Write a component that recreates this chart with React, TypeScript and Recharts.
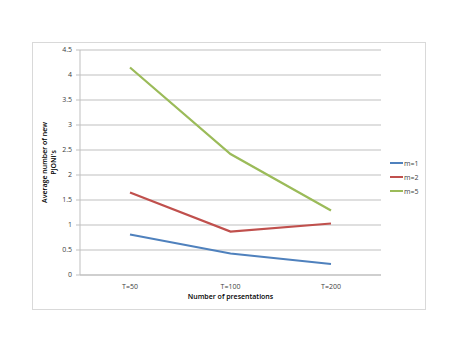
import React from 'react';
import { LineChart, Line, XAxis, YAxis, CartesianGrid } from 'recharts';

const categories = ['T=50', 'T=100', 'T=200'];
const m1 = [0.81, 0.43, 0.22];
const m2 = [1.65, 0.87, 1.03];
const m5 = [4.15, 2.42, 1.29];
const yTicks = [0, 0.5, 1, 1.5, 2, 2.5, 3, 3.5, 4, 4.5];
const boundaryTicks = [0, 1, 2, 3];

const seriesDefs = [
  { key: 'm1', name: 'm=1', color: '#4F81BD' },
  { key: 'm2', name: 'm=2', color: '#C0504D' },
  { key: 'm5', name: 'm=5', color: '#9BBB59' },
];

const data = categories.map((c, i) => ({ cat: c, m1: m1[i], m2: m2[i], m5: m5[i] }));

const FONT = 'Open Sans, Liberation Sans, sans-serif';

const LegendBox = () => (
  <div style={{ position: 'absolute', left: 390, top: 156, fontFamily: FONT, fontSize: 7, color: '#404040' }}>
    {seriesDefs.map((s) => (
      <div key={s.key} style={{ display: 'flex', alignItems: 'center', height: 14 }}>
        <div style={{ width: 13, height: 2.5, background: s.color, marginRight: 1 }} />
        <span>{s.name}</span>
      </div>
    ))}
  </div>
);

const YTitle = (props: any) => {
  const vb = props.viewBox || {};
  const cy = vb.y + vb.height / 2;
  return (
    <g>
      <text x={47} y={cy} transform={`rotate(-90, 47, ${cy})`} textAnchor="middle" fontFamily={FONT} fontSize={7} fontWeight={600} fill="#000">
        Average number of new
      </text>
      <text x={56} y={cy} transform={`rotate(-90, 56, ${cy})`} textAnchor="middle" fontFamily={FONT} fontSize={7} fontWeight={600} fill="#000">
        PJONI's
      </text>
    </g>
  );
};

export default function App() {
  return (
    <div style={{ position: 'absolute', left: 0, top: 0, width: 463, height: 358, background: '#fff' }}>
      <div style={{ position: 'absolute', left: 32, top: 42, width: 394, height: 268, border: '1px solid #D9D9D9', boxSizing: 'border-box' }} />
      <LineChart
        width={463}
        height={358}
        data={data}
        margin={{ top: 50, right: 82, left: 50, bottom: 0 }}
        style={{ position: 'absolute', left: 0, top: 0 }}
      >
        <CartesianGrid vertical={false} stroke="#BFBFBF" strokeWidth={1} />
        <XAxis
          xAxisId="b"
          type="number"
          dataKey={() => 0}
          domain={[0, 3]}
          ticks={boundaryTicks}
          allowDataOverflow
          axisLine={false}
          tickLine={{ stroke: '#BFBFBF' }}
          tickSize={3}
          tick={{ fontSize: 0 }}
          tickFormatter={() => ''}
          height={0}
        />
        <XAxis
          dataKey="cat"
          padding={{ left: 50, right: 50 }}
          axisLine={{ stroke: '#BFBFBF' }}
          tickLine={false}
          tick={{ fontFamily: FONT, fontSize: 7, fill: '#404040' }}
          tickMargin={3}
          height={83}
          label={{ value: 'Number of presentations', position: 'insideTop', offset: 19, style: { fontFamily: FONT, fontSize: 7, fontWeight: 600, fill: '#000' } }}
        />
        <YAxis
          width={30}
          domain={[0, 4.5]}
          ticks={yTicks}
          interval={0}
          axisLine={{ stroke: '#BFBFBF' }}
          tickLine={{ stroke: '#BFBFBF' }}
          tickSize={4}
          tickMargin={4}
          tick={{ fontFamily: FONT, fontSize: 7, fill: '#404040' }}
          label={<YTitle />}
        />
        {seriesDefs.map((s) => (
          <Line
            key={s.key}
            dataKey={s.key}
            name={s.name}
            stroke={s.color}
            strokeWidth={2.25}
            dot={false}
            isAnimationActive={false}
          />
        ))}
      </LineChart>
      <LegendBox />
    </div>
  );
}
